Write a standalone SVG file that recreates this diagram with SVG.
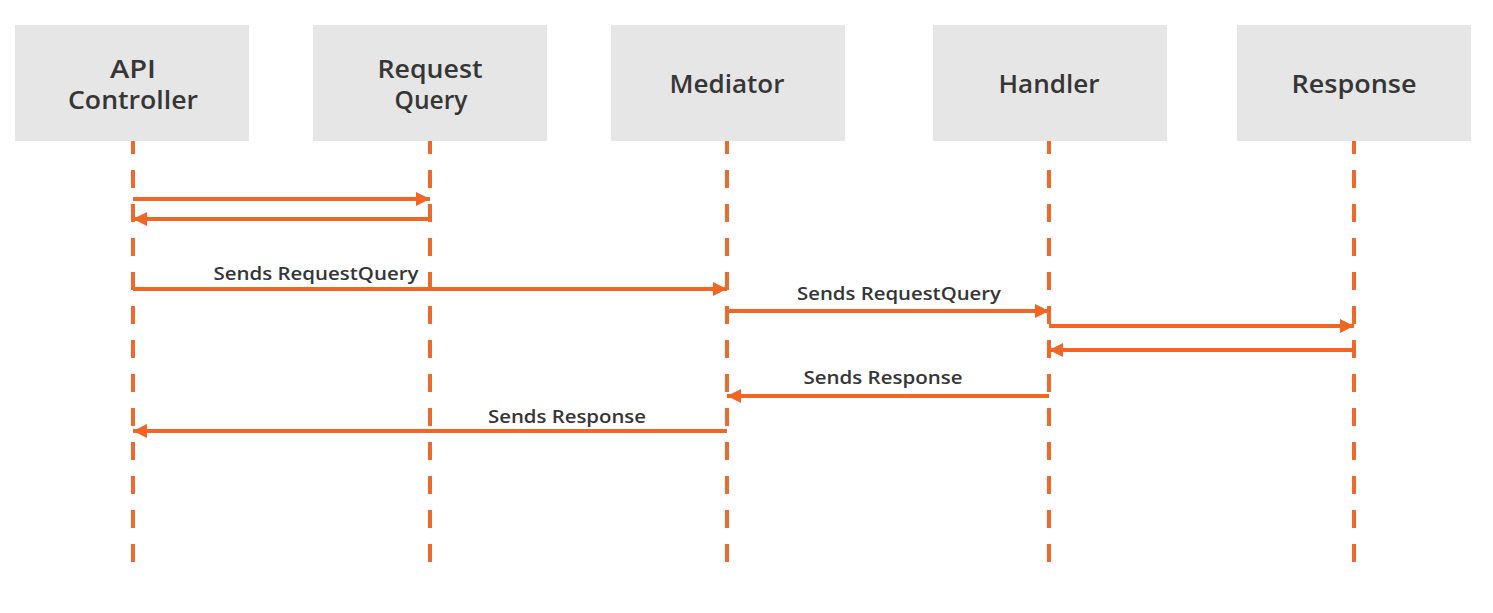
<svg xmlns="http://www.w3.org/2000/svg" width="1493" height="613" viewBox="0 0 1493 613">
<style>
.box{fill:#e6e6e6}
.nt{font-family:"Open Sans","Liberation Sans",sans-serif;font-size:24.5px;font-weight:600;fill:#363636;text-anchor:middle}
.lt{font-family:"Open Sans","Liberation Sans",sans-serif;font-size:18px;font-weight:600;fill:#363636;text-anchor:middle}
.life{stroke:#ee6a2c;stroke-width:4;stroke-dasharray:18 16;fill:none}
.msg{stroke:#f26522;stroke-width:4;fill:none}
</style>
<defs>
<marker id="ah" viewBox="0 0 14 14" refX="14" refY="7" markerWidth="14" markerHeight="14" markerUnits="userSpaceOnUse" orient="auto">
<path d="M0,0 L14,7 L0,14 Z" fill="#f26522"/>
</marker>
</defs>
<rect width="1493" height="613" fill="#ffffff"/>
<g id="lifelines">
<line class="life" x1="133" y1="136" x2="133" y2="563"/>
<line class="life" x1="430" y1="136" x2="430" y2="563"/>
<line class="life" x1="727" y1="136" x2="727" y2="563"/>
<line class="life" x1="1049" y1="136" x2="1049" y2="563"/>
<line class="life" x1="1354" y1="136" x2="1354" y2="563"/>
</g>
<g id="node-api">
<rect class="box" x="15" y="25" width="234" height="116"/>
<text class="nt" x="133" y="78" textLength="46" lengthAdjust="spacingAndGlyphs">API</text>
<text class="nt" x="133" y="109" textLength="130" lengthAdjust="spacingAndGlyphs">Controller</text>
</g>
<g id="node-request">
<rect class="box" x="313" y="25" width="234" height="116"/>
<text class="nt" x="430" y="78" textLength="105" lengthAdjust="spacingAndGlyphs">Request</text>
<text class="nt" x="431" y="109" textLength="73" lengthAdjust="spacingAndGlyphs">Query</text>
</g>
<g id="node-mediator">
<rect class="box" x="611" y="25" width="234" height="116"/>
<text class="nt" x="727" y="93" textLength="115" lengthAdjust="spacingAndGlyphs">Mediator</text>
</g>
<g id="node-handler">
<rect class="box" x="933" y="25" width="234" height="116"/>
<text class="nt" x="1049" y="93" textLength="101" lengthAdjust="spacingAndGlyphs">Handler</text>
</g>
<g id="node-response">
<rect class="box" x="1237" y="25" width="234" height="116"/>
<text class="nt" x="1354" y="93" textLength="125" lengthAdjust="spacingAndGlyphs">Response</text>
</g>
<g id="connectors">
<line class="msg" x1="133" y1="199" x2="430" y2="199" marker-end="url(#ah)"/>
<line class="msg" x1="430" y1="219" x2="133" y2="219" marker-end="url(#ah)"/>
<line class="msg" x1="133" y1="289" x2="727" y2="289" marker-end="url(#ah)"/>
<text class="lt" x="316" y="280" textLength="205" lengthAdjust="spacingAndGlyphs">Sends RequestQuery</text>
<line class="msg" x1="727" y1="311" x2="1049" y2="311" marker-end="url(#ah)"/>
<text class="lt" x="899" y="300" textLength="204" lengthAdjust="spacingAndGlyphs">Sends RequestQuery</text>
<line class="msg" x1="1049" y1="326" x2="1354" y2="326" marker-end="url(#ah)"/>
<line class="msg" x1="1354" y1="350" x2="1049" y2="350" marker-end="url(#ah)"/>
<line class="msg" x1="1049" y1="396" x2="727" y2="396" marker-end="url(#ah)"/>
<text class="lt" x="883" y="384" textLength="159" lengthAdjust="spacingAndGlyphs">Sends Response</text>
<line class="msg" x1="727" y1="431" x2="133" y2="431" marker-end="url(#ah)"/>
<text class="lt" x="567" y="423" textLength="158" lengthAdjust="spacingAndGlyphs">Sends Response</text>
</g>
</svg>
